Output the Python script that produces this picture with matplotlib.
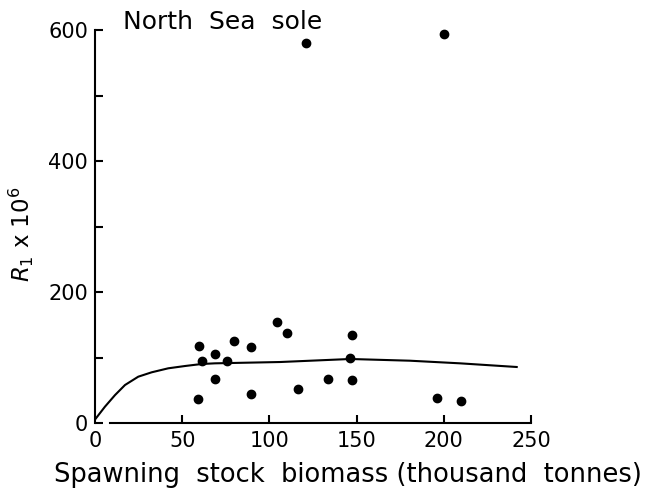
import matplotlib
matplotlib.use('Agg')
import matplotlib.pyplot as plt

# spawning stock biomass (thousand tonnes) vs recruits R1 (x 10^6)
ssb = [121.0, 200.3, 59.6, 61.5, 68.8, 69.0, 75.7, 79.9, 89.6, 89.3,
       58.9, 104.4, 110.3, 116.2, 133.8, 147.5, 146.4, 147.5, 195.9, 209.9]
recruits = [580.6, 593.4, 118.0, 94.7, 104.9, 67.6, 94.7, 125.6, 116.5, 44.3,
            36.2, 153.7, 137.4, 52.4, 66.7, 134.8, 98.8, 65.6, 37.7, 33.1]

# fitted stock-recruitment curve
curve_ssb = [0.5, 5.7, 11.5, 17.2, 24.8, 32.5, 42.0, 51.6, 61.2, 68.8,
             106.1, 146.2, 151.9, 180.6, 209.3, 241.8]
curve_rec = [7.0, 24.9, 42.7, 58.0, 70.7, 77.4, 83.5, 87.0, 90.1, 91.1,
             93.1, 97.7, 97.3, 95.1, 91.1, 85.5]

x_ticks = [0, 50, 100, 150, 200, 250]
y_ticks = [0, 200, 400, 600]
y_minor = [100, 300, 500]

plt.rcParams['font.family'] = 'DejaVu Sans'

fig = plt.figure(figsize=(6.59, 4.90), dpi=100)
ax = fig.add_axes([95 / 659, 67 / 490, 436 / 659, 393 / 490])

ax.plot(curve_ssb, curve_rec, color='black', lw=1.5)
ax.scatter(ssb, recruits, s=36, color='black', zorder=3, clip_on=False)

ax.set_xlim(0, 250)
ax.set_ylim(0, 600)

for side in ['top', 'right']:
    ax.spines[side].set_visible(False)
for side in ['left', 'bottom']:
    ax.spines[side].set_linewidth(1.5)
ax.spines['bottom'].set_bounds(8.6, 250)

ax.set_xticks(x_ticks)
ax.set_yticks(y_ticks)
ax.set_yticks(y_minor, minor=True)
ax.tick_params(axis='both', which='both', direction='in', length=6,
               width=1.5, labelsize=15)
ax.tick_params(axis='x', pad=6)
ax.tick_params(axis='y', pad=5)
ax.xaxis.get_major_ticks()[0].tick1line.set_visible(False)

ax.set_xlabel('Spawning  stock  biomass (thousand  tonnes)', fontsize=18.5)
ax.xaxis.set_label_coords(0.581, -0.1)
ax.set_ylabel(r'$R_1$ x 10$^6$', fontsize=16.5)
ax.yaxis.set_label_coords(-0.135, 0.48)

fig.text(123 / 659, 1 - 29 / 490, 'North  Sea  sole', fontsize=18,
         ha='left', va='baseline')

fig.savefig('out.png', dpi=100)
